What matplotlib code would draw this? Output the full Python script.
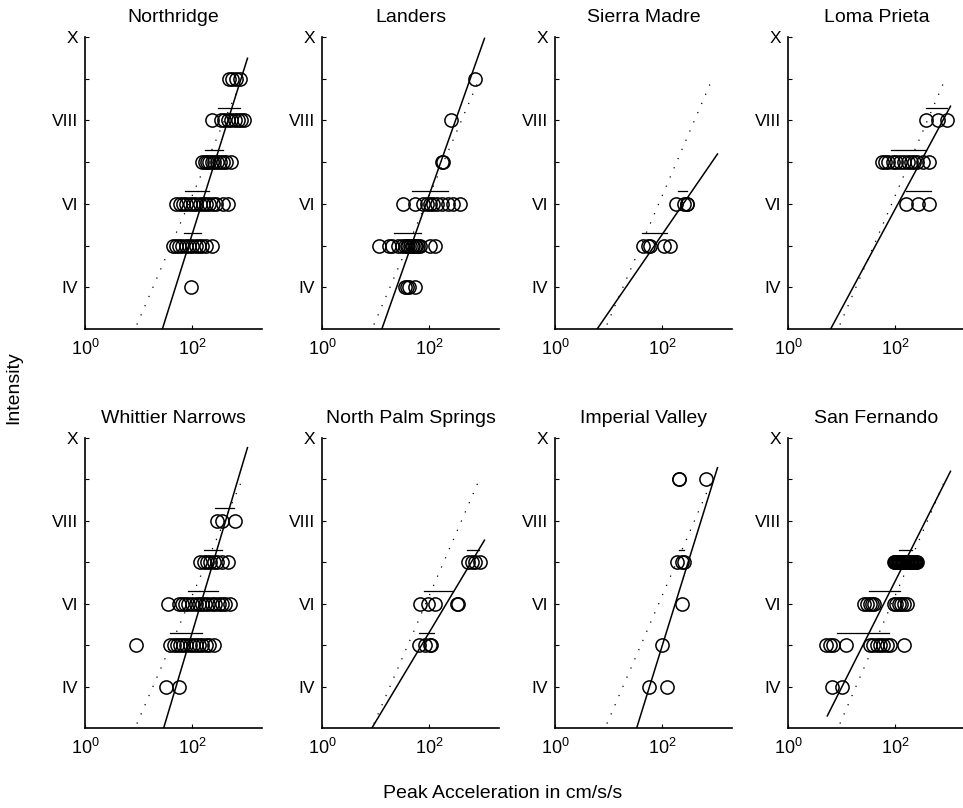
#!/usr/bin/env python
# -*- coding: utf-8 -*-
'''
Intensity versus peak acceleration for eight California earthquakes
'''
import matplotlib.pyplot as plt
import numpy as np

plt.rcParams['font.family'] = ['Liberation Sans', 'DejaVu Sans']
plt.rcParams['mathtext.fontset'] = 'custom'
plt.rcParams['mathtext.rm'] = 'Liberation Sans'
plt.rcParams['mathtext.it'] = 'Liberation Sans:italic'

################################################################################
# Data: peak acceleration (cm/s/s) of each station, grouped by intensity
################################################################################
titles = ['Northridge', 'Landers', 'Sierra Madre', 'Loma Prieta',
          'Whittier Narrows', 'North Palm Springs', 'Imperial Valley',
          'San Fernando']

northridge = {
    4: [95],
    5: [43, 49, 56, 65, 76, 87, 100, 115, 132, 151, 182, 234],
    6: [50, 58, 66, 78, 89, 102, 117, 138, 158, 182, 209, 240, 275, 372, 457],
    7: [155, 170, 186, 209, 234, 257, 288, 324, 372, 427, 525],
    8: [234, 347, 398, 457, 525, 617, 708, 813, 933],
    9: [479, 550, 661, 776],
}
landers = {
    4: [34.7, 38, 41.7, 53.7],
    5: [11.7, 17.4, 20, 26.3, 30.9, 35.5, 38, 40.7, 43.7, 46.8, 50.1, 53.7,
        57.5, 61.7, 67.6, 102, 129],
    6: [33, 54, 78, 89, 102, 117, 138, 170, 224, 282, 372],
    7: [174, 178],
    8: [251],
    9: [708],
}
sierra_madre = {
    5: [43.7, 53.7, 58.9, 110, 138],
    6: [178, 251, 295, 295],
}
loma_prieta = {
    6: [158, 269, 427],
    7: [56, 63, 72, 89, 102, 123, 148, 170, 195, 224, 257, 324, 427],
    8: [372, 617, 933],
}
whittier = {
    4: [33, 56],
    5: [9.1, 38.9, 44.7, 51, 58.9, 67.6, 77.6, 89, 102, 117, 135, 155, 178,
        204, 257],
    6: [35.5, 56, 65, 74, 85, 98, 115, 132, 151, 174, 200, 234, 269, 309, 355,
        407, 513],
    7: [141, 162, 186, 214, 251, 288, 355, 457],
    8: [288, 355, 631],
}
palm_springs = {
    5: [63, 83, 102, 110],
    6: [67.6, 95.5, 129, 324, 339],
    7: [525, 617, 708, 871],
}
imperial = {
    4: [56, 123],
    5: [100],
    6: [234],
    7: [191, 229, 251],
    9: [204, 209, 661],
}
san_fernando = {
    4: [6.5, 10],
    5: [5.2, 6.0, 6.9, 12.3, 33.9, 38.9, 45.7, 52.5, 60.3, 69.2, 81.3, 145],
    6: [25.7, 29.5, 33.1, 36.3, 40.7, 93, 105, 115, 129, 145, 162],
    7: [93, 97, 100, 104, 107, 111, 115, 119, 123, 128, 132, 137, 141, 146,
        151, 156, 162, 168, 174, 180, 186, 193, 200, 207, 214, 221, 229, 237,
        245, 257],
}
events = [northridge, landers, sierra_madre, loma_prieta,
          whittier, palm_springs, imperial, san_fernando]

# range bars drawn just above each intensity group: (intensity, low, high)
bars = [
    [(5, 69, 148), (6, 72, 209), (7, 170, 380), (8, 302, 776)],
    [(5, 22.4, 70.8), (6, 46.8, 219)],
    [(5, 42.7, 120), (6, 195, 295)],
    [(6, 158, 457), (7, 85, 372), (8, 372, 933)],
    [(5, 38, 155), (6, 85, 302), (7, 166, 355), (8, 269, 589)],
    [(5, 63, 123), (6, 81, 282), (7, 513, 851)],
    [(7, 204, 251)],
    [(5, 8.1, 78), (6, 33, 123), (7, 115, 204)],
]

# fitted relation for each event: I = a + b*log10(pga)
fit_a = [-2.90, -1.06, 1.53, 1.10, -3.35, 0.99, -3.35, 1.41]
fit_b = [4.09, 3.64, 1.87, 2.39, 4.33, 2.16, 4.17, 2.57]
fit_range = [5.4, 1070.]

# reference relation (dotted), same for all events
ref_a, ref_b = 0.2, 3.0
ref_range = [9.3, 870.]

################################################################################
# Plot
################################################################################
fig = plt.figure(figsize=(9.63, 8.08), dpi=100)
W, H = 963., 808.
lefts = [85, 322, 555, 788]
rows = [(37, 329), (438, 728)]   # (top, bottom) in pixels
width = 177

for k, title in enumerate(titles):
    top, bottom = rows[k // 4]
    ax = fig.add_axes([lefts[k % 4] / W, 1 - bottom / H,
                       width / W, (bottom - top) / H])

    for intensity, pga in events[k].items():
        ax.plot(pga, [intensity] * len(pga), 'o', mfc='none', mec='k',
                ms=9.5, mew=1.1, clip_on=False)
    for intensity, lo, hi in bars[k]:
        ax.plot([lo, hi], [intensity + 0.3] * 2, 'k-', lw=0.9)

    x = np.array(fit_range)
    ax.plot(x, fit_a[k] + fit_b[k] * np.log10(x), 'k-', lw=1.1)
    x = np.array(ref_range)
    ax.plot(x, ref_a + ref_b * np.log10(x), 'k', lw=0.9, ls=(0, (1, 7)))

    ax.set_xscale('log')
    ax.set_xlim(1, 10 ** 3.3)
    ax.set_ylim(3, 10)
    ax.set_xticks([1, 100])
    ax.set_xticklabels(['$10^0$', '$10^2$'], fontsize=13)
    ax.xaxis.set_minor_locator(plt.NullLocator())
    ax.set_yticks([4, 6, 8, 10])
    ax.set_yticklabels(['IV', 'VI', 'VIII', 'X'], fontsize=12.5)
    ax.set_yticks([5, 7, 9], minor=True)
    ax.tick_params(direction='in', length=3, width=0.8, pad=5)
    ax.tick_params(axis='x', pad=7)
    ax.tick_params(which='minor', direction='in', length=3, width=0.8)
    for side in ['top', 'right']:
        ax.spines[side].set_visible(False)
    for side in ['left', 'bottom']:
        ax.spines[side].set_linewidth(1.2)
    ax.set_title(title, fontsize=14, pad=11)

fig.text(14 / W, 1 - 388 / H, 'Intensity', rotation=90, fontsize=14,
         ha='center', va='center')
fig.text(503 / W, 1 - 793 / H, 'Peak Acceleration in cm/s/s', fontsize=14,
         ha='center', va='center')

fig.savefig('out.png', dpi=100)
plt.close(fig)
